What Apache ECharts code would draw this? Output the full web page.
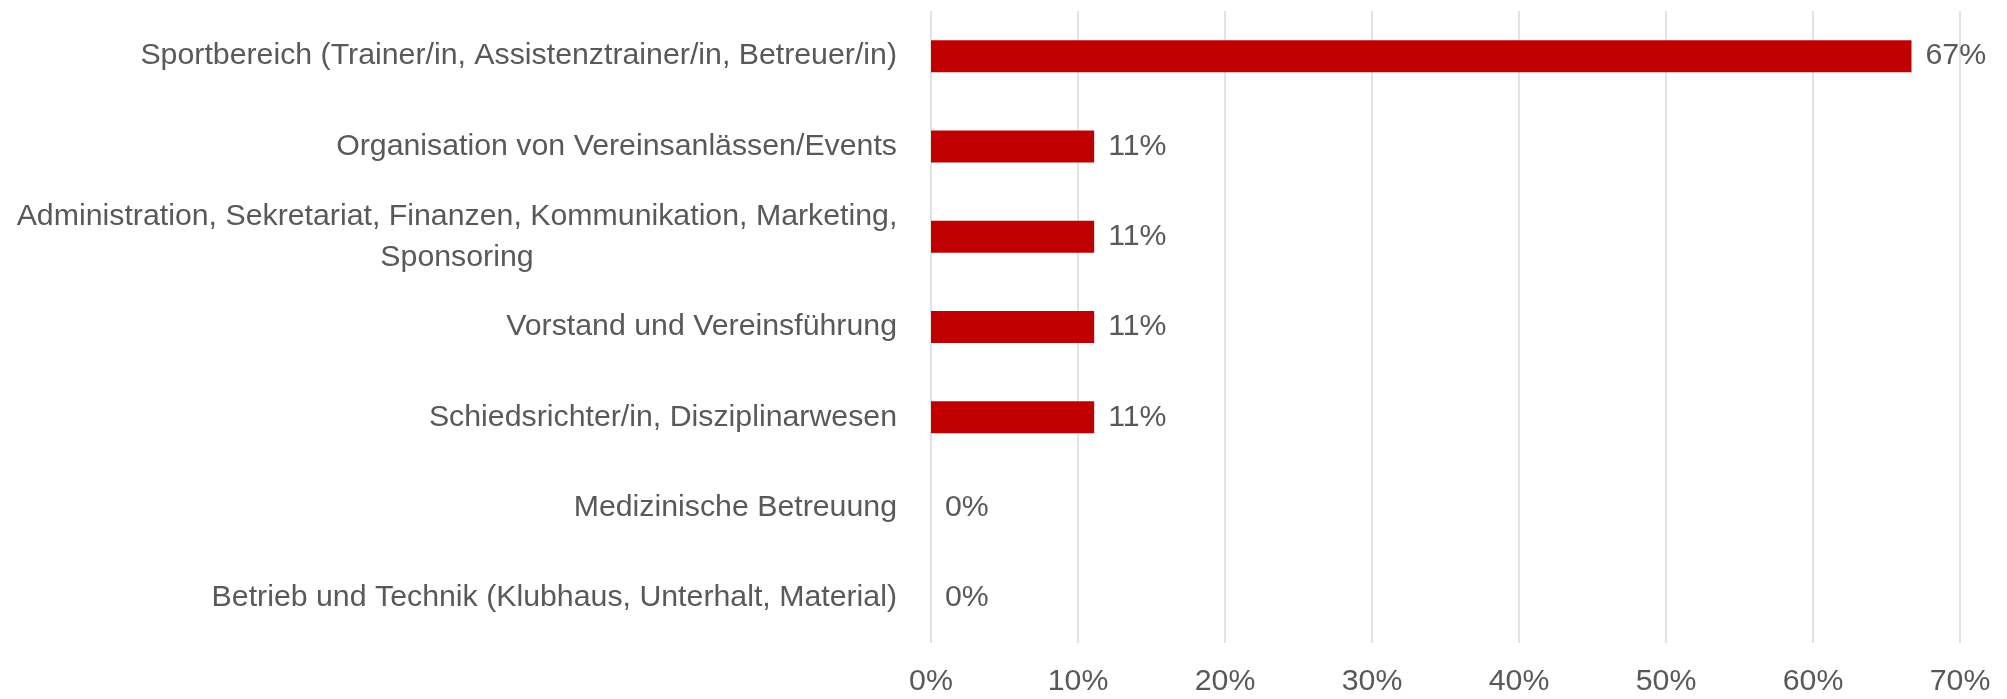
<!DOCTYPE html>
<html>
<head>
<meta charset="utf-8">
<script src="https://cdn.jsdelivr.net/npm/echarts@6/dist/echarts.min.js"></script>
<style>
  html, body { margin: 0; padding: 0; background: #fff; }
  #chart { width: 2007px; height: 699px; }
</style>
</head>
<body>
<div id="chart"></div>
<script>
// Bereiche der Freiwilligenarbeit (Anteile in %)
const categories = [
  'Sportbereich (Trainer/in, Assistenztrainer/in, Betreuer/in)',
  'Organisation von Vereinsanlässen/Events',
  'Administration, Sekretariat, Finanzen, Kommunikation, Marketing,\nSponsoring',
  'Vorstand und Vereinsführung',
  'Schiedsrichter/in, Disziplinarwesen',
  'Medizinische Betreuung',
  'Betrieb und Technik (Klubhaus, Unterhalt, Material)'
]
const values = [66.7, 11.1, 11.1, 11.1, 11.1, 0, 0]
const tickMax = 70
const tickStep = 10

const font = '"Liberation Sans Narrow", "Arial Narrow", sans-serif'
const textColor = '#595959'
const fs = 30.3

const chart = echarts.init(document.getElementById('chart'))
chart.setOption({
  backgroundColor: '#fff',
  animation: false,
  grid: { left: 931, right: 47, top: 11, bottom: 56 },
  xAxis: {
    type: 'value',
    min: 0,
    max: tickMax,
    interval: tickStep,
    axisLine: { show: false },
    axisTick: { show: false },
    splitLine: { lineStyle: { color: '#d9d9d9', width: 1.5 } },
    axisLabel: {
      formatter: v => v + '%',
      color: textColor,
      fontFamily: font,
      fontSize: fs,
      margin: 24
    }
  },
  yAxis: {
    type: 'category',
    data: categories,
    inverse: true,
    axisLine: { show: false },
    axisTick: { show: false },
    axisLabel: {
      color: textColor,
      fontFamily: font,
      fontSize: fs,
      margin: 34,
      formatter: v => {
        // mehrzeilige Beschriftung zentriert wie im Original
        if (v.indexOf('\n') < 0) return v
        return v.split('\n').map(l => '{m|' + l + '}').join('\n')
      },
      rich: {
        m: { width: 880, align: 'center', lineHeight: 41, fontSize: fs, fontFamily: font, color: textColor }
      }
    }
  },
  series: [{
    type: 'bar',
    data: values,
    barWidth: 32,
    itemStyle: { color: '#c00000' },
    label: {
      show: true,
      position: 'right',
      distance: 14,
      formatter: p => Math.round(p.value) + '%',
      color: textColor,
      fontFamily: font,
      fontSize: fs
    }
  }]
})
</script>
</body>
</html>
